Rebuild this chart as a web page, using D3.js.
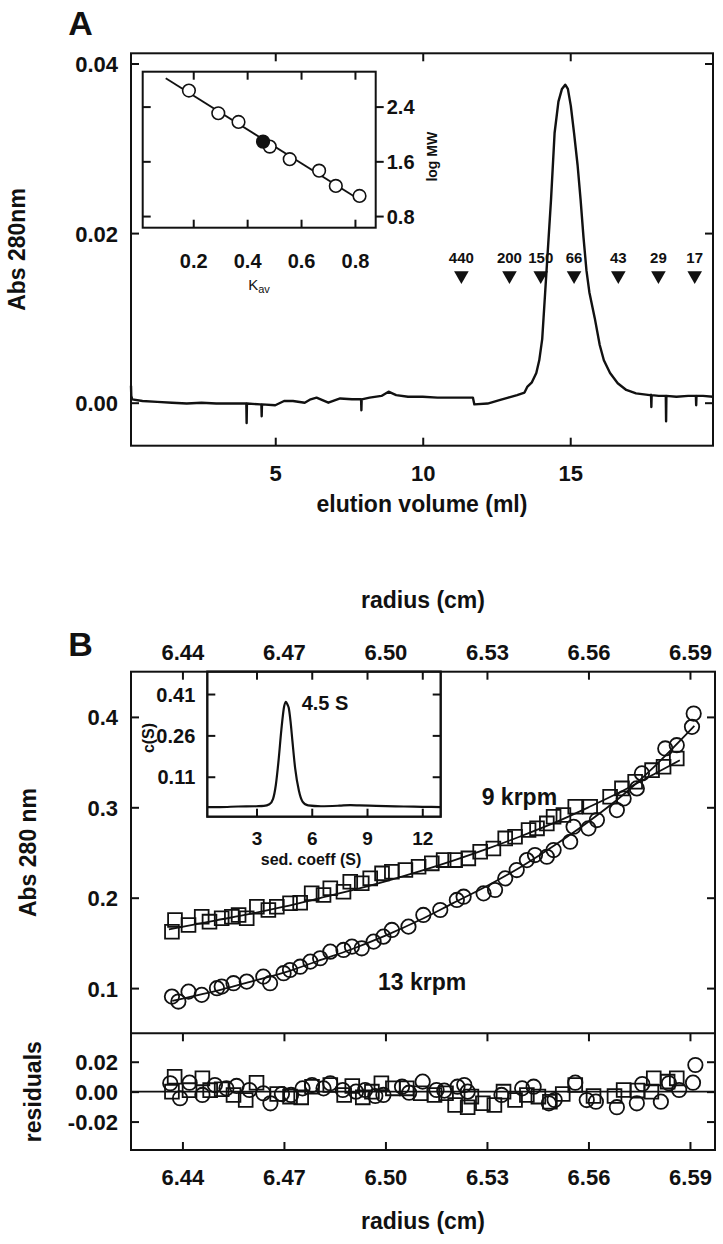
<!DOCTYPE html>
<html><head><meta charset="utf-8">
<script src="https://cdn.jsdelivr.net/npm/d3@7"></script>
<style>
body{margin:0;background:#fff}
svg text{font-family:"Liberation Sans",Arial,sans-serif;font-weight:bold;fill:#111}
</style></head><body>
<svg id="c" width="723" height="1244"></svg>
<script>
// ---------- Panel A: elution profile ----------
const elutionVol = [0.11,0.12,0.15,0.5,1.0,1.5,2.0,2.5,3.0,3.5,4.0,4.02,4.03,4.04,4.5,4.53,4.54,4.55,5.0,5.3,5.6,6.0,6.2,6.4,6.8,7.2,7.6,7.91,7.92,7.93,8.2,8.6,8.84,9.1,9.5,10.0,10.5,11.0,11.7,11.75,12.2,12.6,12.9,13.2,13.45,13.55,13.7,13.85,13.95,14.05,14.15,14.25,14.35,14.47,14.6,14.72,14.83,14.92,15.02,15.13,15.25,15.35,15.45,15.55,15.65,15.83,16.0,16.14,16.35,16.61,16.9,17.23,17.7,17.74,17.75,17.76,18.0,18.24,18.25,18.26,18.6,19.0,19.26,19.27,19.28,19.5,19.84];
const absorbance = [0.0020,0.0008,0.0004,0.0002,0.0001,0.0000,-0.0001,0.0000,-0.0001,-0.0001,-0.0001,-0.0001,-0.0024,-0.0001,-0.0002,-0.0002,-0.0016,-0.0002,-0.0003,0.0002,0.0002,0.0000,0.0004,0.0006,0.0000,0.0005,0.0004,0.0004,-0.0009,0.0004,0.0006,0.0008,0.0013,0.0009,0.0007,0.0007,0.0006,0.0006,0.0006,-0.0002,-0.0001,0.0003,0.0006,0.0009,0.0012,0.0019,0.0024,0.0035,0.0050,0.0075,0.0130,0.0185,0.0240,0.0318,0.0355,0.0370,0.0375,0.0370,0.0350,0.0318,0.0280,0.0240,0.0195,0.0156,0.0130,0.0100,0.0068,0.0050,0.0035,0.0023,0.0015,0.0011,0.0009,0.0009,-0.0005,0.0009,0.0008,0.0008,-0.0022,0.0008,0.0007,0.0008,0.0008,-0.0003,0.0008,0.0008,0.0007];
const elutionTicks = [5,10,15];
const absTicksA = [0.00,0.02,0.04];
const markerMW = ["440","200","150","66","43","29","17"];
const markerVol = [11.31,12.94,14.0,15.13,16.63,17.99,19.22];

// inset A: calibration
const kavStd = [0.184,0.293,0.368,0.484,0.558,0.667,0.729,0.817];
const logMWStd = [2.634,2.303,2.176,1.815,1.631,1.464,1.241,1.094];
const kavSample = [0.459];
const logMWSample = [1.888];
const kavFit = [0.098,0.82];
const logMWFit = [2.815,1.03];
const kavTicks = [0.2,0.4,0.6,0.8];
const logMWTicks = [0.8,1.6,2.4];

// ---------- Panel B: sedimentation equilibrium ----------
const sqR = [6.4369,6.4378,6.4418,6.4457,6.4480,6.4516,6.4546,6.4566,6.4590,6.4620,6.4654,6.4679,6.4718,6.4748,6.4782,6.4817,6.4837,6.4876,6.4896,6.4930,6.4955,6.4990,6.5019,6.5059,6.5098,6.5137,6.5172,6.5206,6.5245,6.5280,6.5319,6.5354,6.5383,6.5423,6.5448,6.5477,6.5497,6.5526,6.5561,6.5605,6.5664,6.5699,6.5738,6.5788,6.5822,6.5861];
const sqA = [0.1624,0.1753,0.1698,0.1790,0.1735,0.1772,0.1790,0.1809,0.1772,0.1900,0.1864,0.1900,0.1938,0.1945,0.2048,0.2030,0.2104,0.2066,0.2177,0.2159,0.2214,0.2269,0.2287,0.2306,0.2343,0.2380,0.2416,0.2416,0.2435,0.2508,0.2545,0.2656,0.2674,0.2748,0.2767,0.2822,0.2895,0.2914,0.3006,0.3006,0.3116,0.3209,0.3282,0.3411,0.3448,0.3540];
const sqFitR = [6.436,6.45,6.46,6.47,6.48,6.49,6.50,6.51,6.52,6.53,6.54,6.55,6.56,6.57,6.58,6.587];
const sqFitA = [0.165,0.175,0.182,0.190,0.199,0.208,0.218,0.229,0.241,0.254,0.268,0.283,0.300,0.318,0.338,0.352];

const ciR = [6.4369,6.4388,6.4418,6.4457,6.4502,6.4516,6.4551,6.4590,6.4639,6.4659,6.4699,6.4718,6.4748,6.4778,6.4807,6.4837,6.4876,6.4901,6.4930,6.4965,6.4994,6.5019,6.5068,6.5112,6.5162,6.5211,6.5231,6.5290,6.5324,6.5354,6.5388,6.5418,6.5442,6.5477,6.5497,6.5546,6.5556,6.5600,6.5625,6.5684,6.5704,6.5743,6.5758,6.5827,6.5861,6.5906,6.5911];
const ciA = [0.0906,0.0851,0.0961,0.0925,0.0999,0.1017,0.1054,0.1072,0.1127,0.1054,0.1165,0.1200,0.1237,0.1293,0.1330,0.1403,0.1422,0.1459,0.1440,0.1514,0.1569,0.1643,0.1680,0.1809,0.1864,0.1975,0.2011,0.2048,0.2085,0.2214,0.2306,0.2416,0.2472,0.2453,0.2527,0.2619,0.2785,0.2767,0.2859,0.2969,0.3098,0.3209,0.3375,0.3651,0.3687,0.3890,0.4037];
const ciFitR = [6.437,6.45,6.46,6.47,6.48,6.49,6.50,6.51,6.52,6.53,6.54,6.55,6.56,6.57,6.58,6.5913];
const ciFitA = [0.086,0.097,0.107,0.117,0.130,0.143,0.158,0.175,0.194,0.213,0.234,0.258,0.284,0.313,0.347,0.390];

const resSqR = [6.4377,6.4369,6.4421,6.4459,6.4482,6.4516,6.4551,6.4587,6.4619,6.4680,6.4718,6.4751,6.4783,6.4837,6.4878,6.4902,6.4933,6.4960,6.4988,6.5022,6.5063,6.5104,6.5145,6.5179,6.5206,6.5243,6.5254,6.5288,6.5322,6.5349,6.5383,6.5418,6.5452,6.5486,6.5524,6.5561,6.5615,6.5677,6.5704,6.5745,6.5786,6.5793,6.5834,6.5861];
const resSq = [0.0100,0.0000,0.0010,0.0089,0.0010,0.0016,-0.0022,-0.0056,0.0060,-0.0016,-0.0033,-0.0038,0.0033,0.0044,-0.0022,0.0038,-0.0038,0.0000,0.0056,0.0022,0.0022,-0.0011,-0.0022,-0.0011,-0.0089,-0.0104,-0.0033,-0.0078,-0.0089,0.0000,-0.0056,-0.0022,-0.0033,-0.0067,-0.0016,0.0044,-0.0029,-0.0029,0.0011,0.0007,0.0000,0.0089,0.0067,0.0089];
const resCiR = [6.4364,6.4393,6.4421,6.4459,6.4496,6.4530,6.4560,6.4598,6.4639,6.4660,6.4694,6.4721,6.4755,6.4783,6.4817,6.4837,6.4874,6.4913,6.4940,6.4970,6.4994,6.5049,6.5070,6.5110,6.5151,6.5174,6.5213,6.5233,6.5243,6.5343,6.5404,6.5438,6.5483,6.5500,6.5561,6.5595,6.5622,6.5684,6.5743,6.5759,6.5814,6.5838,6.5868,6.5916,6.5909];
const resCi = [0.0056,-0.0044,0.0060,-0.0022,0.0044,0.0022,0.0038,0.0011,-0.0011,-0.0078,-0.0016,-0.0022,0.0022,0.0044,0.0022,0.0056,0.0011,0.0000,0.0011,-0.0029,-0.0022,0.0033,-0.0007,0.0067,0.0011,0.0007,0.0033,0.0044,0.0000,-0.0022,0.0022,0.0033,-0.0078,-0.0056,0.0060,-0.0056,-0.0067,-0.0104,-0.0078,0.0051,-0.0067,0.0056,0.0011,0.0178,0.0060];
const radiusTicks = [6.44,6.47,6.50,6.53,6.56,6.59];
const absTicksB = [0.1,0.2,0.3,0.4];
const resTicks = [-0.02,0.00,0.02];

// inset B: c(s) distribution
const sedCoeff = [0.33,1.0,2.0,3.0,3.4,3.7,3.9,4.05,4.2,4.35,4.5,4.6,4.68,4.75,4.85,4.95,5.1,5.3,5.5,5.8,6.5,7.5,8.1,8.6,9.5,11.0,12.0,13.0];
const cOfS = [0.000,0.000,0.002,0.003,0.004,0.010,0.030,0.080,0.170,0.280,0.365,0.382,0.372,0.360,0.310,0.240,0.140,0.060,0.020,0.006,0.003,0.005,0.007,0.006,0.004,0.002,0.001,0.000];
const sedTicks = [3,6,9,12];
const cTicks = [0.11,0.26,0.41];

// ================= drawing =================
const svg = d3.select("#c");
const INK = "#111";
const TL = 8; // tick length
const TICKFONT = 22, TITLEFONT = 23;

function styleAxis(g, size){
  g.select(".domain").remove();
  g.selectAll("line").attr("stroke", INK).attr("stroke-width", 2);
  g.attr("font-size", null).attr("font-family", null);
  g.selectAll("text").style("font-size", size + "px").attr("fill", INK);
  return g;
}
function ticks(parent, gen, tx, ty){
  const g = parent.append("g").attr("transform", `translate(${tx},${ty})`).call(gen.tickFormat(""));
  return styleAxis(g, 10);
}
function labels(parent, gen, tx, ty, size){
  const g = parent.append("g").attr("transform", `translate(${tx},${ty})`).call(gen.tickSize(0));
  g.selectAll("line").remove();
  return styleAxis(g, size);
}
function frame(parent, l, t, r, b, fill){
  parent.append("rect").attr("x", l).attr("y", t).attr("width", r - l).attr("height", b - t)
    .attr("fill", fill || "none").attr("stroke", INK).attr("stroke-width", 2);
}
function text(parent, s, x, y, size, anchor, rot){
  const t = parent.append("text").text(s).style("font-size", size + "px")
    .attr("text-anchor", anchor || "middle");
  if (rot) t.attr("transform", `translate(${x},${y}) rotate(${rot})`);
  else t.attr("x", x).attr("y", y);
  return t;
}

// ---- Panel A ----
const A = {l:131, r:713, t:53.3, b:445.7};
const xA = d3.scaleLinear().domain([0.11, 19.84]).range([A.l, A.r]);
const yA = d3.scaleLinear().domain([-0.00507, 0.0412]).range([A.b, A.t]);
const gA = svg.append("g");

text(gA, "A", 80.5, 35, 34);
ticks(gA, d3.axisBottom(xA).tickValues(elutionTicks).tickSize(-TL), 0, A.b);
ticks(gA, d3.axisTop(xA).tickValues(elutionTicks).tickSize(-TL), 0, A.t);
ticks(gA, d3.axisLeft(yA).tickValues(absTicksA).tickSize(-TL), A.l, 0);
ticks(gA, d3.axisRight(yA).tickValues(absTicksA).tickSize(-TL), A.r, 0);
labels(gA, d3.axisBottom(xA).tickValues(elutionTicks).tickFormat(d3.format("d")), 0, A.b, TICKFONT)
  .selectAll("text").attr("dy", null).attr("y", 481 - A.b);
labels(gA, d3.axisLeft(yA).tickValues(absTicksA).tickFormat(d3.format(".2f")).tickPadding(13), A.l, 0, TICKFONT)
  .selectAll("text").attr("dy", "0.36em");

gA.append("path").datum(elutionVol.map((v, i) => [v, absorbance[i]]))
  .attr("d", d3.line().x(d => xA(d[0])).y(d => yA(d[1])))
  .attr("fill", "none").attr("stroke", INK).attr("stroke-width", 2.4).attr("stroke-linejoin", "round");

const tri = d3.symbol(d3.symbolTriangle, 92);
markerVol.forEach((v, i) => {
  gA.append("path").attr("d", tri()).attr("fill", INK)
    .attr("transform", `translate(${xA(v)},275.5) rotate(180)`);
  text(gA, markerMW[i], xA(v), 263, 15);
});
frame(gA, A.l, A.t, A.r, A.b);
text(gA, "Abs 280nm", 25, (A.t + A.b) / 2, TITLEFONT, "middle", -90);
text(gA, "elution volume (ml)", (A.l + A.r) / 2, 512, TITLEFONT);

// inset A
const IA = {l:142.7, t:71.7, r:375.7, b:227.7};
const xI = d3.scaleLinear().domain([0.0125, 0.877]).range([IA.l, IA.r]);
const yI = d3.scaleLinear().domain([0.63, 2.91]).range([IA.b, IA.t]);
const gI = svg.append("g");
frame(gI, IA.l, IA.t, IA.r, IA.b, "#fff");
ticks(gI, d3.axisBottom(xI).tickValues(kavTicks).tickSize(-TL), 0, IA.b);
ticks(gI, d3.axisTop(xI).tickValues(kavTicks).tickSize(-TL), 0, IA.t);
ticks(gI, d3.axisLeft(yI).tickValues(logMWTicks).tickSize(-TL), IA.l, 0);
ticks(gI, d3.axisRight(yI).tickValues(logMWTicks).tickSize(TL), IA.r, 0);
labels(gI, d3.axisBottom(xI).tickValues(kavTicks).tickFormat(d3.format(".1f")), 0, IA.b, 20)
  .selectAll("text").attr("dy", null).attr("y", 268 - IA.b);
labels(gI, d3.axisRight(yI).tickValues(logMWTicks).tickFormat(d3.format(".1f")).tickPadding(11), IA.r, 0, 20)
  .selectAll("text").attr("dy", "0.36em");
gI.append("path").datum(kavFit.map((k, i) => [k, logMWFit[i]]))
  .attr("d", d3.line().x(d => xI(d[0])).y(d => yI(d[1])))
  .attr("stroke", INK).attr("stroke-width", 1.8).attr("fill", "none");
gI.selectAll("circle.std").data(kavStd).enter().append("circle")
  .attr("cx", d => xI(d)).attr("cy", (d, i) => yI(logMWStd[i])).attr("r", 6.3)
  .attr("fill", "#fff").attr("stroke", INK).attr("stroke-width", 1.6);
gI.selectAll("circle.smp").data(kavSample).enter().append("circle")
  .attr("cx", d => xI(d)).attr("cy", (d, i) => yI(logMWSample[i])).attr("r", 6.3)
  .attr("fill", INK).attr("stroke", INK).attr("stroke-width", 1.6);
const kav = gI.append("text").attr("x", 259).attr("y", 290).attr("text-anchor", "middle")
  .style("font-size", "15px").style("font-weight", "normal");
kav.append("tspan").text("K");
kav.append("tspan").text("av").style("font-size", "11px").attr("dy", 3);
text(gI, "log MW", 437, 156.7, 14, "middle", -90);

// ---- Panel B ----
const B = {l:131, r:715, t:671.7, b:1033.3, rb:1150};
const xB = d3.scaleLinear().domain([6.4248, 6.5974]).range([B.l, B.r]);
const yB = d3.scaleLinear().domain([0.05, 0.45]).range([B.b, B.t]);
const yR = d3.scaleLinear().domain([-0.039, 0.039]).range([B.rb, B.b]);
const gB = svg.append("g");

text(gB, "B", 80.5, 656, 34);
text(gB, "radius (cm)", (B.l + B.r) / 2, 608, TITLEFONT);
labels(gB, d3.axisTop(xB).tickValues(radiusTicks).tickFormat(d3.format(".2f")), 0, B.t, TICKFONT)
  .selectAll("text").attr("dy", null).attr("y", 660 - B.t);
ticks(gB, d3.axisTop(xB).tickValues(radiusTicks).tickSize(-TL), 0, B.t);
ticks(gB, d3.axisLeft(yB).tickValues(absTicksB).tickSize(-TL), B.l, 0);
ticks(gB, d3.axisRight(yB).tickValues(absTicksB).tickSize(-TL), B.r, 0);
labels(gB, d3.axisLeft(yB).tickValues(absTicksB).tickFormat(d3.format(".1f")).tickPadding(13), B.l, 0, TICKFONT)
  .selectAll("text").attr("dy", "0.36em");

// residual axes
ticks(gB, d3.axisTop(xB).tickValues(radiusTicks).tickSize(-TL), 0, B.b);
ticks(gB, d3.axisBottom(xB).tickValues(radiusTicks).tickSize(-TL), 0, B.rb);
ticks(gB, d3.axisLeft(yR).tickValues(resTicks).tickSize(-TL), B.l, 0);
ticks(gB, d3.axisRight(yR).tickValues(resTicks).tickSize(-TL), B.r, 0);
labels(gB, d3.axisBottom(xB).tickValues(radiusTicks).tickFormat(d3.format(".2f")), 0, B.rb, TICKFONT)
  .selectAll("text").attr("dy", null).attr("y", 1185 - B.rb);
labels(gB, d3.axisLeft(yR).tickValues(resTicks).tickFormat(d => d.toFixed(2)).tickPadding(13), B.l, 0, TICKFONT)
  .selectAll("text").attr("dy", "0.36em");
gB.append("line").attr("x1", B.l).attr("x2", B.r).attr("y1", yR(0)).attr("y2", yR(0))
  .attr("stroke", INK).attr("stroke-width", 1.6);

const sq = d3.symbol(d3.symbolSquare, 190);
function squares(g, xs, ys, yS){
  g.selectAll(null).data(xs).enter().append("path").attr("d", sq())
    .attr("transform", (d, i) => `translate(${xB(d)},${yS(ys[i])})`)
    .attr("fill", "none").attr("stroke", INK).attr("stroke-width", 1.8);
}
function circles(g, xs, ys, yS){
  g.selectAll(null).data(xs).enter().append("circle")
    .attr("cx", d => xB(d)).attr("cy", (d, i) => yS(ys[i])).attr("r", 7.2)
    .attr("fill", "none").attr("stroke", INK).attr("stroke-width", 1.8);
}
circles(gB, ciR, ciA, yB);
squares(gB, sqR, sqA, yB);
const fitLine = d3.line().curve(d3.curveMonotoneX).x(d => xB(d[0])).y(d => yB(d[1]));
gB.append("path").datum(sqFitR.map((r, i) => [r, sqFitA[i]])).attr("d", fitLine)
  .attr("fill", "none").attr("stroke", INK).attr("stroke-width", 1.8);
gB.append("path").datum(ciFitR.map((r, i) => [r, ciFitA[i]])).attr("d", fitLine)
  .attr("fill", "none").attr("stroke", INK).attr("stroke-width", 1.8);
circles(gB, resCiR, resCi, yR);
squares(gB, resSqR, resSq, yR);

frame(gB, B.l, B.t, B.r, B.rb);
gB.append("line").attr("x1", B.l).attr("x2", B.r).attr("y1", B.b).attr("y2", B.b)
  .attr("stroke", INK).attr("stroke-width", 2);

text(gB, "9 krpm", 481.7, 805, TITLEFONT, "start");
text(gB, "13 krpm", 378, 990, TITLEFONT, "start");
text(gB, "Abs 280 nm", 36, (B.t + B.b) / 2, TITLEFONT, "middle", -90);
text(gB, "residuals", 41, (B.b + B.rb) / 2, TITLEFONT, "middle", -90);
text(gB, "radius (cm)", (B.l + B.r) / 2, 1229, TITLEFONT);

// inset B
const IB = {l:207.3, t:671.7, r:440.7, b:816.7};
const xS = d3.scaleLinear().domain([0.33, 13.0]).range([IB.l, IB.r]);
const yS = d3.scaleLinear().domain([-0.035, 0.491]).range([IB.b, IB.t]);
const gS = svg.append("g");
frame(gS, IB.l, IB.t, IB.r, IB.b, "#fff");
ticks(gS, d3.axisBottom(xS).tickValues(sedTicks).tickSize(-TL), 0, IB.b);
ticks(gS, d3.axisTop(xS).tickValues(sedTicks).tickSize(-TL), 0, IB.t);
ticks(gS, d3.axisLeft(yS).tickValues(cTicks).tickSize(-TL), IB.l, 0);
ticks(gS, d3.axisRight(yS).tickValues(cTicks).tickSize(-TL), IB.r, 0);
labels(gS, d3.axisBottom(xS).tickValues(sedTicks).tickFormat(d3.format("d")), 0, IB.b, 19)
  .selectAll("text").attr("dy", null).attr("y", 845 - IB.b);
labels(gS, d3.axisLeft(yS).tickValues(cTicks).tickFormat(d3.format(".2f")).tickPadding(12), IB.l, 0, 20)
  .selectAll("text").attr("dy", "0.36em");
gS.append("path").datum(sedCoeff.map((s, i) => [s, cOfS[i]]))
  .attr("d", d3.line().curve(d3.curveMonotoneX).x(d => xS(d[0])).y(d => yS(d[1])))
  .attr("fill", "none").attr("stroke", INK).attr("stroke-width", 2.2);
frame(gS, IB.l, IB.t, IB.r, IB.b);
text(gS, "4.5 S", 301.7, 710, 20, "start");
text(gS, "sed. coeff (S)", 311, 865, 16);
text(gS, "c(S)", 154, 738, 16, "middle", -90);
</script>
</body></html>
